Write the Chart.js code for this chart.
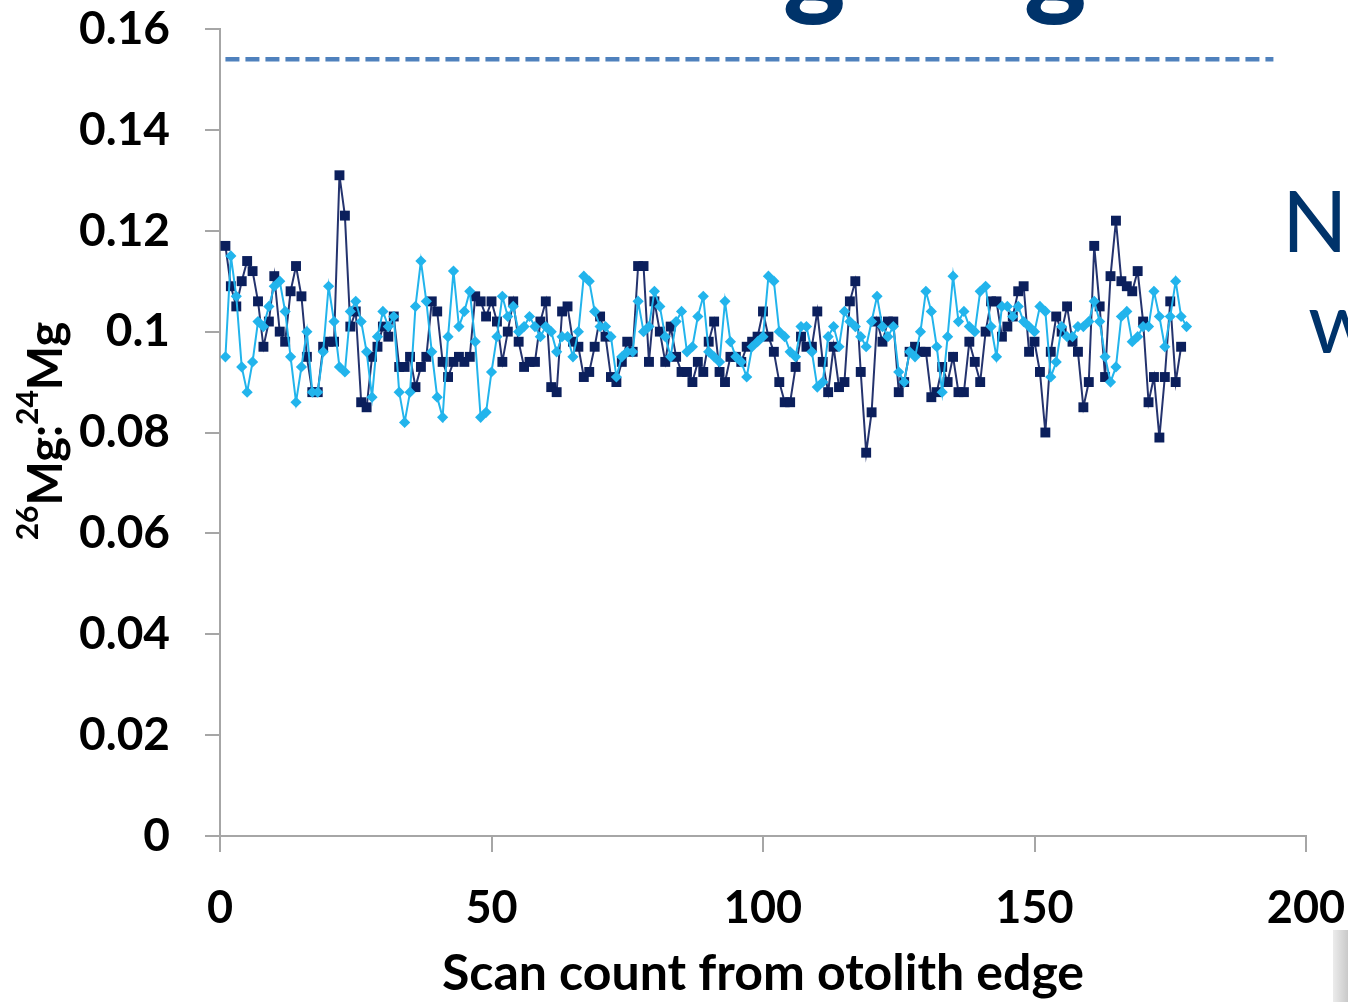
<!DOCTYPE html>
<html lang="en">
<head>
<meta charset="UTF-8">
<title>26Mg:24Mg scan profile</title>
<script src="https://cdn.jsdelivr.net/npm/chart.js"></script>
<style>
  html, body { margin: 0; padding: 0; background: #fff; overflow: hidden; }
  #wrap { position: relative; width: 1348px; height: 1002px; }
  #corner { position: absolute; left: 1333px; top: 930px; width: 15px; height: 72px;
            background: linear-gradient(90deg, #ececec, #c9c9c9); }
</style>
</head>
<body>
<div id="wrap">
  <canvas id="ratioChart"></canvas>
  <div id="corner"></div>
</div>
<script>
// 26Mg:24Mg ratio per scan (scan 1 onwards)
const darkRatio = [
  0.117,0.109,0.105,0.110,0.114,0.112,0.106,0.097,0.102,0.111,
  0.100,0.098,0.108,0.113,0.107,0.095,0.088,0.088,0.097,0.098,
  0.098,0.131,0.123,0.101,0.104,0.086,0.085,0.095,0.097,0.101,
  0.099,0.103,0.093,0.093,0.095,0.089,0.093,0.095,0.106,0.104,
  0.094,0.091,0.094,0.095,0.094,0.095,0.107,0.106,0.103,0.106,
  0.102,0.094,0.100,0.106,0.098,0.093,0.094,0.094,0.102,0.106,
  0.089,0.088,0.104,0.105,0.098,0.097,0.091,0.092,0.097,0.103,
  0.099,0.091,0.090,0.094,0.098,0.096,0.113,0.113,0.094,0.106,
  0.100,0.094,0.101,0.095,0.092,0.092,0.090,0.094,0.092,0.098,
  0.102,0.092,0.090,0.095,0.095,0.094,0.097,0.098,0.099,0.104,
  0.099,0.096,0.090,0.086,0.086,0.093,0.099,0.097,0.097,0.104,
  0.094,0.088,0.097,0.089,0.090,0.106,0.110,0.092,0.076,0.084,
  0.102,0.098,0.102,0.102,0.088,0.090,0.096,0.097,0.096,0.096,
  0.087,0.088,0.093,0.090,0.095,0.088,0.088,0.098,0.094,0.090,
  0.100,0.106,0.106,0.099,0.101,0.103,0.108,0.109,0.096,0.098,
  0.092,0.080,0.096,0.103,0.100,0.105,0.098,0.096,0.085,0.090,
  0.117,0.105,0.091,0.111,0.122,0.110,0.109,0.108,0.112,0.102,
  0.086,0.091,0.079,0.091,0.106,0.090,0.097
];
const lightRatio = [
  0.095,0.115,0.107,0.093,0.088,0.094,0.102,0.101,0.105,0.109,
  0.110,0.104,0.095,0.086,0.093,0.100,0.088,0.088,0.096,0.109,
  0.102,0.093,0.092,0.104,0.106,0.102,0.096,0.087,0.099,0.104,
  0.101,0.103,0.088,0.082,0.088,0.105,0.114,0.106,0.096,0.087,
  0.083,0.099,0.112,0.101,0.104,0.108,0.098,0.083,0.084,0.092,
  0.099,0.107,0.103,0.105,0.100,0.101,0.103,0.101,0.099,0.101,
  0.100,0.096,0.099,0.099,0.095,0.100,0.111,0.110,0.104,0.101,
  0.101,0.099,0.091,0.095,0.096,0.096,0.106,0.100,0.101,0.108,
  0.105,0.099,0.095,0.102,0.104,0.096,0.097,0.103,0.107,0.096,
  0.095,0.094,0.106,0.098,0.095,0.094,0.091,0.097,0.098,0.099,
  0.111,0.110,0.100,0.099,0.096,0.095,0.101,0.101,0.096,0.089,
  0.090,0.099,0.101,0.097,0.104,0.102,0.101,0.099,0.097,0.102,
  0.107,0.101,0.099,0.101,0.092,0.090,0.096,0.095,0.100,0.108,
  0.104,0.097,0.088,0.099,0.111,0.102,0.104,0.101,0.100,0.108,
  0.109,0.101,0.095,0.105,0.105,0.103,0.105,0.102,0.101,0.100,
  0.105,0.104,0.091,0.094,0.101,0.099,0.099,0.101,0.101,0.102,
  0.106,0.102,0.095,0.090,0.093,0.103,0.104,0.098,0.099,0.101,
  0.101,0.108,0.103,0.097,0.103,0.110,0.103,0.101
];
// dashed reference level
const limitRatio = 0.154;
const limitScans = [1, 194];

const xTicks = [0, 50, 100, 150, 200];
const yTicks = [0, 0.02, 0.04, 0.06, 0.08, 0.1, 0.12, 0.14, 0.16];

const axisGrey = '#a6a6a6';
const xTickFont = { family: 'Lato', size: 45, weight: 'bold' };
const yTickFont = { family: 'Lato', size: 46, weight: 'bold' };

// scan number = position in the list (first scan is 1)
const toPoints = arr => arr.map((v, i) => ({ x: i + 1, y: v }));

// y axis title with superscripts + cut-off slide text around the chart
const extras = {
  id: 'extras',
  afterDraw(chart) {
    const ctx = chart.ctx;
    ctx.save();
    ctx.textBaseline = 'alphabetic';
    ctx.textAlign = 'left';

    ctx.fillStyle = '#00336a';
    ctx.font = '900 118px Lato';
    ctx.fillText('g', 783, 4);
    ctx.fillText('g', 1024, 4);
    ctx.font = '86px Lato';
    ctx.fillText('N', 1282, 252);
    ctx.fillText('w', 1308, 353);

    const parts = [
      { t: '26', sup: true }, { t: 'Mg:', sup: false },
      { t: '24', sup: true }, { t: 'Mg', sup: false }
    ];
    const big = 'bold 47px Lato', small = 'bold 30px Lato';
    let total = 0;
    parts.forEach(p => { ctx.font = p.sup ? small : big; p.w = ctx.measureText(p.t).width; total += p.w; });
    ctx.translate(62, 431);
    ctx.rotate(-Math.PI / 2);
    ctx.fillStyle = '#000';
    let x = -total / 2;
    parts.forEach(p => {
      ctx.font = p.sup ? small : big;
      ctx.fillText(p.t, x, p.sup ? -24 : 0);
      x += p.w;
    });
    ctx.restore();
  }
};

new Chart(document.getElementById('ratioChart'), {
  type: 'line',
  data: {
    datasets: [
      {
        label: 'Series 2',
        data: toPoints(lightRatio),
        borderColor: '#22b4ec',
        backgroundColor: '#22b4ec',
        borderWidth: 2,
        pointStyle: 'rectRot',
        pointRadius: 5.6,
        pointBorderWidth: 0,
        order: 1
      },
      {
        label: 'Series 1',
        data: toPoints(darkRatio),
        borderColor: '#24336e',
        backgroundColor: '#0b1f5c',
        borderWidth: 2,
        pointStyle: 'rect',
        pointRadius: 7,
        pointBorderWidth: 0,
        order: 2
      },
      {
        label: 'Limit',
        data: limitScans.map(s => ({ x: s, y: limitRatio })),
        borderColor: '#4f81bd',
        borderWidth: 4.5,
        borderDash: [14, 6],
        pointRadius: 0,
        order: 3
      }
    ]
  },
  options: {
    responsive: true,
    maintainAspectRatio: false,
    animation: false,
    layout: { padding: { top: 29, right: 42, left: 0, bottom: 0 } },
    plugins: { legend: { display: false }, tooltip: { enabled: false } },
    scales: {
      x: {
        type: 'linear',
        min: 0,
        max: 200,
        afterBuildTicks: s => { s.ticks = xTicks.map(v => ({ value: v })); },
        afterFit: s => { s.height = 166; s.paddingLeft = 0; s.paddingRight = 0; },
        grid: { drawOnChartArea: false, tickLength: 16, color: axisGrey, lineWidth: 2 },
        border: { color: axisGrey, width: 2 },
        ticks: { padding: 29, color: '#000', font: xTickFont, maxRotation: 0 },
        title: {
          display: true,
          text: 'Scan count from otolith edge',
          color: '#000',
          font: { family: 'Lato', size: 50, weight: 'bold' },
          padding: { top: 0, bottom: -2 }
        }
      },
      y: {
        min: 0,
        max: 0.16,
        afterBuildTicks: s => { s.ticks = yTicks.map(v => ({ value: v })); },
        afterFit: s => { s.width = 220; s.paddingTop = 0; s.paddingBottom = 0; },
        grid: { drawOnChartArea: false, tickLength: 15, color: axisGrey, lineWidth: 2 },
        border: { color: axisGrey, width: 2 },
        ticks: {
          padding: 35,
          color: '#000',
          font: yTickFont,
          callback: v => String(+v.toFixed(2))
        }
      }
    }
  },
  plugins: [extras]
});
</script>
</body>
</html>
